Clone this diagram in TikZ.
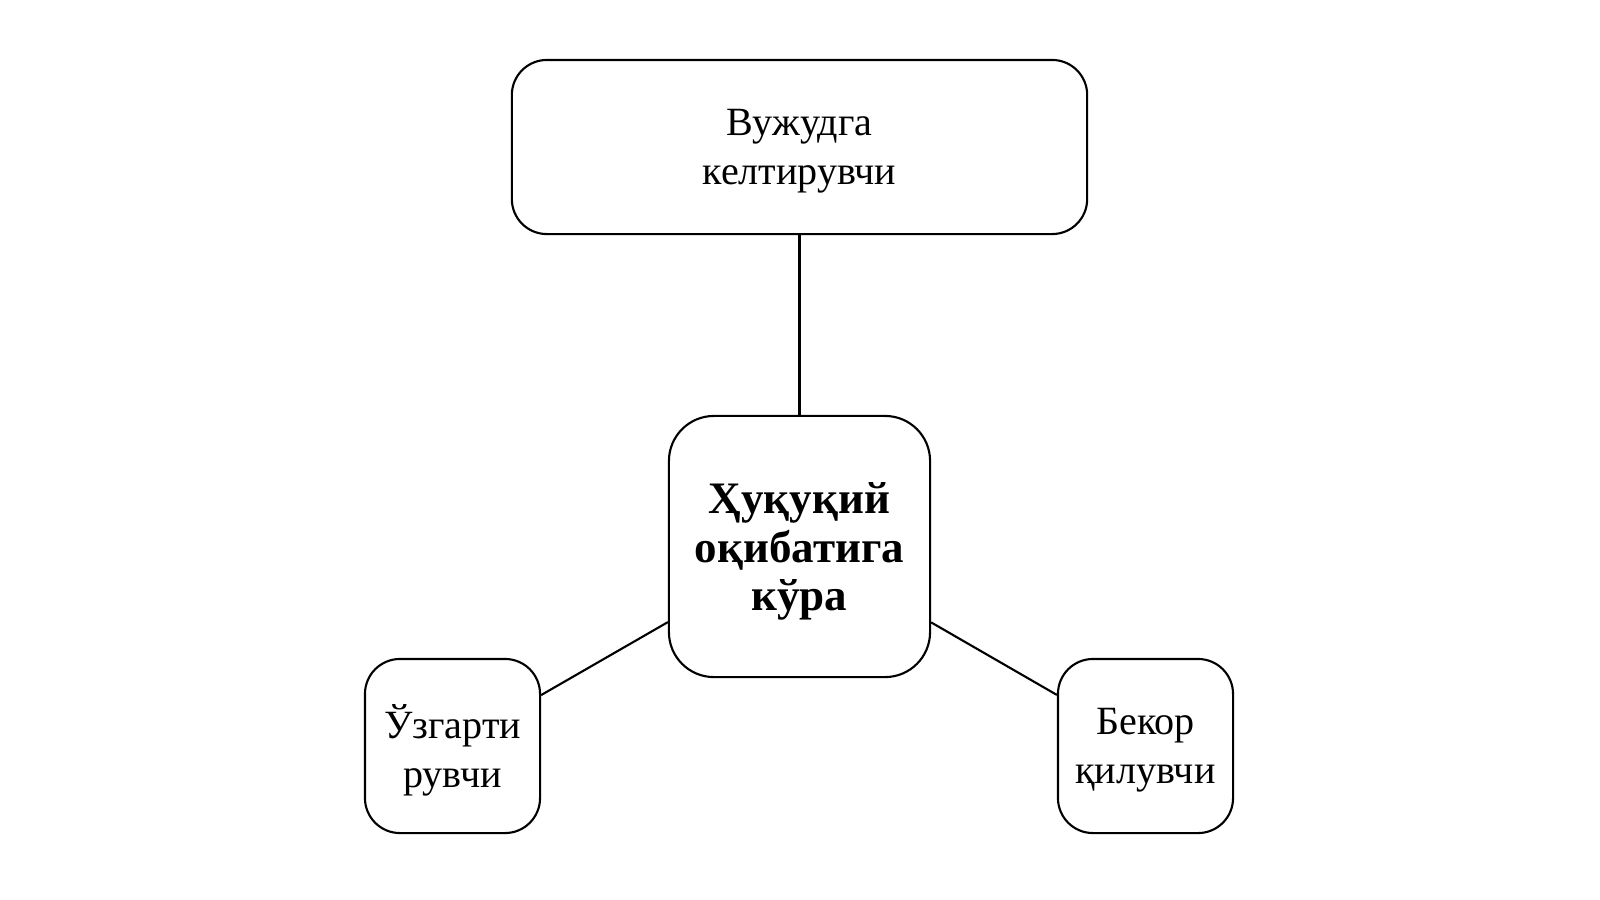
\documentclass[tikz,border=0pt]{standalone}
\usepackage{fontspec}
\setmainfont{Liberation Serif}
\usepackage{tikz}
\usetikzlibrary{positioning}
\tikzstyle{kindbox} = [rectangle, draw, semithick, rounded corners=3.5mm, align=center, inner sep=0pt, text depth=-1.8pt, font=\fontsize{11.4}{13.8}\selectfont]
\tikzstyle{link} = [semithick]

\begin{document}
\begin{tikzpicture}[x=0.01cm, y=-0.01cm]
                \useasboundingbox (0,0) rectangle (1600,899);
                % Main node
                \node[kindbox, rounded corners=4.5mm, minimum width=2.61cm, minimum height=2.61cm, font=\fontsize{12.8}{13.8}\selectfont\bfseries] (result) at (799.5,546.5) {Ҳуқуқий\\оқибатига\\кўра};

                % Kinds
                \node[kindbox, minimum width=5.75cm, minimum height=1.74cm] (create) at (799.5,147) {Вужудга\\келтирувчи};
                \node[kindbox, minimum width=1.75cm, minimum height=1.74cm] (change) at (452.5,746) {Ўзгарти\\рувчи};
                \node[kindbox, minimum width=1.75cm, minimum height=1.74cm] (cancel) at (1145.5,746) {Бекор\\қилувчи};

                % Lines
                \draw[link] (result) -- (create);
                \draw[link] (result) -- (change);
                \draw[link] (result) -- (cancel);
            \end{tikzpicture}
\end{document}
